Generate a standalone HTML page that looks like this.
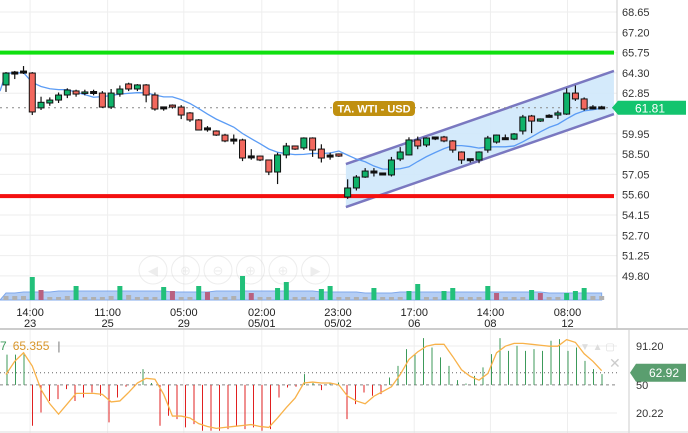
<!DOCTYPE html>
<html><head><meta charset="utf-8"><style>
body{margin:0;background:#fff;width:688px;height:433px;overflow:hidden;font-family:"Liberation Sans",sans-serif}
svg{display:block}
</style></head><body>
<svg id="c" width="688" height="433" font-family="Liberation Sans, sans-serif"></svg>
<script>
const opens=[63.44,64.29,64.36,64.29,61.8,62.15,62.36,62.72,63.01,62.86,62.9,62.86,61.86,62.79,63.51,63.15,63.44,62.72,61.8,62.0,61.86,61.44,60.94,60.3,60.15,59.86,59.5,59.51,58.3,58.36,58.08,57.22,58.44,59.08,58.94,59.65,58.86,58.36,58.51,55.44,56.08,56.86,57.22,57.08,57.01,58.15,58.44,59.51,59.15,59.65,59.72,59.44,58.65,58.1,58.08,58.79,59.36,59.6,59.57,60.15,61.22,60.86,61.2,61.29,61.36,62.86,62.44,61.8,61.8];
const closes=[64.29,64.29,64.36,61.51,62.2,62.36,62.72,63.08,62.79,62.94,62.9,61.86,62.86,63.15,63.15,63.44,62.72,61.72,61.8,61.86,61.29,60.94,60.22,60.3,59.86,59.44,59.5,58.22,58.3,58.08,57.22,58.44,59.08,58.86,59.65,58.79,58.22,58.36,58.36,56.08,56.86,57.29,57.22,57.08,58.08,58.65,59.51,59.08,59.65,59.65,59.44,58.79,58.08,58.1,58.65,59.65,59.86,59.6,59.94,61.15,60.86,61.01,61.2,61.44,62.86,62.44,61.72,61.8,61.8];
const highs=[64.36,64.44,64.79,64.36,62.6,62.55,62.9,63.2,63.1,63.1,63.1,63.0,63.15,63.4,63.6,63.5,63.5,62.9,61.9,62.05,62.0,61.5,61.0,60.5,60.2,59.95,59.9,59.6,58.85,58.4,58.1,58.6,59.3,59.1,59.7,59.7,59.2,58.6,58.55,56.7,57.0,57.5,57.5,57.15,58.3,59.0,59.7,59.75,59.7,59.75,59.8,59.5,58.7,58.15,58.7,59.8,59.9,59.9,60.0,61.3,61.3,61.05,61.35,61.6,63.2,63.4,62.55,62.0,61.95];
const lows=[62.94,63.86,64.22,61.29,61.65,61.95,62.15,62.5,62.6,62.7,62.7,61.8,61.72,62.6,63.0,63.0,62.2,61.6,61.6,61.75,61.0,60.8,60.2,60.1,59.8,59.35,59.2,58.0,58.1,58.0,57.0,56.36,58.2,58.8,58.8,58.3,57.9,58.1,58.3,55.3,55.9,56.8,56.9,57.0,56.9,58.0,58.4,58.85,59.0,59.5,59.35,58.6,57.8,57.9,57.85,58.6,59.25,59.55,59.5,59.9,60.0,60.8,61.1,61.0,61.3,62.3,61.6,61.7,61.7];
const volumes=[4,4,4,23,10,3,3,4,14,3,3,3,4,14,5,3,3,3,13,9,3,3,14,8,3,3,4,24,7,3,3,12,18,3,3,3,11,14,3,3,3,3,12,3,3,3,9,16,3,3,9,12,3,3,3,14,7,3,3,3,10,7,3,3,7,9,12,4,4];
const volUp=[1,1,1,1,0,1,1,1,1,0,1,1,1,1,0,1,1,1,1,0,1,1,1,0,1,1,1,1,0,1,1,1,1,1,1,1,1,1,1,1,1,1,1,1,1,1,1,1,1,1,1,1,1,1,1,1,0,1,1,1,1,0,1,1,1,1,1,1,1];
const volMA=[7,7,8,8,8,8,9,9,9,9,9,9,9,9,9,9,9,9,9,8,8,8,8,8,9,9,9,9,9,9,9,9,9,9,9,9,8,8,8,8,8,7,7,7,7,8,8,8,8,8,8,8,8,8,8,8,8,8,8,8,8,8,7,7,7,7,7,7,7];
const oscBars=[82,82,84,6.7,20.8,33,35,45.5,33,36.7,42,38.5,10.3,36.7,48,48,66.7,52,6.7,17.3,13.8,5,8.5,1.4,1.4,1.4,3.2,6.7,3.2,5,1.4,3.2,36.7,47.3,48,61.4,52,44.5,52,52.6,13.8,29.7,42,38.5,40.2,57.9,70.2,87.9,82.6,99.5,89.6,79.1,70.2,55.1,51.5,59.6,68.5,82.6,99.5,86.1,91.4,86.1,87.9,86.1,96.7,98.5,86.1,89.6,75.5,66.7,61.4];
const oscLine=[61,75,84,70,45,30,19,30,41,41,41,40,32,33,42,52,57,56,40,17,17,15,9,6,4,5,6,7,8,6,5,15,26,36,52,53,52,52,50,38,33,30,38,43,48,61,77,85,91,93,93,80,66,59,55,62,84,91,94,94,93,92,91,91,98,95,83,75,65];
const priceTicks=[68.65,67.20,65.75,64.30,62.85,59.95,58.50,57.05,55.60,54.15,52.70,51.25,49.80];
const timeLabels=["14:00","11:00","05:00","02:00","23:00","17:00","14:00","08:00"];
const dateLabels=["23","25","29","05/01","05/02","06","08","12"];
const timeIdx=[2.75,11.6,20.3,29.2,37.9,46.6,55.3,64.1];
const oscTicks=[91.20,50,20.22];
const resistance=65.75, support=55.5, lastPrice=61.81, oscLast=62.92;
const chIdx=[38.8,69.4], chUpper=[57.79,64.44], chLower=[54.72,61.36];

const NS="http://www.w3.org/2000/svg";
const svg=document.getElementById('c');
function mk(t,a,p){const e=document.createElementNS(NS,t);for(const k in a)e.setAttribute(k,a[k]);(p||svg).appendChild(e);return e;}
const X=i=>6+i*8.76;
const Y=p=>12+(68.65-p)*14;
const XO=i=>7+i*(595/(oscBars.length-1));
const YO=v=>346+(91.2-v)/1.059;
const YV=v=>300-v;

priceTicks.forEach(p=>{const l=mk('line',{x1:0,x2:617,y1:Y(p),y2:Y(p),stroke:'#eeeeee'});});
timeIdx.forEach(i=>{const l=mk('line',{x1:X(i),x2:X(i),y1:0,y2:433,stroke:'#eeeeee'});});
[YO(91.2),YO(20.22)].forEach(y=>{const l=mk('line',{x1:0,x2:617,y1:y,y2:y,stroke:'#eeeeee'});});

const navG=mk('g',{opacity:0.35});
["◀","⊕","⊖","⊕","⊕","▶"].forEach((s,k)=>{const cx=153+k*32.5;const c=mk('circle',{cx:cx,cy:270,r:14,fill:'none',stroke:'#ccc'},navG);const t=mk('text',{x:cx,y:275,'text-anchor':'middle','font-size':13,fill:'#ccc'},navG);t.textContent=s;});

const chPts=`${X(chIdx[0])},${Y(chUpper[0])} ${X(chIdx[1])},${Y(chUpper[1])} ${X(chIdx[1])},${Y(chLower[1])} ${X(chIdx[0])},${Y(chLower[0])}`;
const ch=mk('polygon',{points:chPts,fill:'#cfe8fb',opacity:0.9});
[[chUpper,'channel-upper'],[chLower,'channel-lower']].forEach(([a,n])=>{const l=mk('line',{x1:X(chIdx[0]),y1:Y(a[0]),x2:X(chIdx[1]),y2:Y(a[1]),stroke:'#7a78c0','stroke-width':2.5});});

let va=`M${X(0)-6},300 `;volMA.forEach((v,i)=>va+=`L${X(i)},${YV(v)} `);va+=`L${X(volMA.length-1)},300Z`;
const vap=mk('path',{d:va,fill:'#a9c6f3',opacity:0.85,stroke:'#6a9ae8'});
volumes.forEach((v,i)=>{const r=mk('rect',{x:X(i)-2.5,y:YV(v),width:5,height:v,fill:v>5?(volUp[i]?'#22c07a':'#b86080'):'#b0b0b0'});});

const rl=mk('rect',{x:0,y:Y(resistance)-2,width:614,height:4,fill:'#10e010'});
const sl=mk('rect',{x:0,y:Y(support)-2,width:614,height:4,fill:'#f41010'});
const lp=mk('line',{x1:0,x2:614,y1:Y(lastPrice),y2:Y(lastPrice),stroke:'#888','stroke-dasharray':'2,4'});

let d='';closes.forEach((c,i)=>{const s=closes.slice(Math.max(0,i-7),i+1);const m=s.reduce((a,b)=>a+b,0)/s.length;d+=(i?'L':'M')+X(i)+','+Y(m)+' ';});
const ma=mk('path',{d:'M0,'+Y(63.0)+' '+d.replace('M','L'),fill:'none',stroke:'#5b9cf5','stroke-width':1.3});

opens.forEach((o,i)=>{const c=closes[i];const g=mk('g',{});
mk('line',{x1:X(i),x2:X(i),y1:Y(highs[i]),y2:Y(lows[i]),stroke:'#111','stroke-width':1.2},g);
const top=Y(Math.max(o,c)),bh=Math.max(1.5,Math.abs(Y(o)-Y(c)));
const dj=Math.abs(o-c)<0.03;
mk('rect',{x:X(i)-3,y:dj?top-1:top,width:6,height:dj?2:bh,fill:dj?'#111':(c>=o?'#0fb26a':'#f2685e'),stroke:'#111','stroke-width':1},g);});

const tg=mk('g',{});
mk('rect',{x:333,y:101,width:82,height:15,rx:4,fill:'#c09010'},tg);
const tt=mk('text',{x:374,y:112.5,'text-anchor':'middle','font-size':11,'font-weight':'bold',fill:'#fff'},tg);tt.textContent='TA. WTI - USD';

mk('line',{x1:617,x2:617,y1:0,y2:329,stroke:'#ccc'});
mk('line',{x1:0,x2:688,y1:329,y2:329,stroke:'#ccc','stroke-width':2});
mk('line',{x1:629,x2:629,y1:329,y2:433,stroke:'#ccc'});
mk('line',{x1:0,x2:688,y1:432,y2:432,stroke:'#ddd'});

priceTicks.forEach(p=>{const t=mk('text',{x:622,y:Y(p)+4,'font-size':11,fill:'#333'});t.textContent=p.toFixed(2);});
const pg=mk('g',{});
mk('path',{d:`M612,${Y(lastPrice)} L618,${Y(lastPrice)-7} L686,${Y(lastPrice)-7} L686,${Y(lastPrice)+7} L618,${Y(lastPrice)+7}Z`,fill:'#13c46e'},pg);
const pt=mk('text',{x:650,y:Y(lastPrice)+4.5,'text-anchor':'middle','font-size':12,fill:'#fff'},pg);pt.textContent=lastPrice.toFixed(2);

timeIdx.forEach((i,k)=>{const t=mk('text',{x:X(i),y:316,'text-anchor':'middle','font-size':11,fill:'#222'});t.textContent=timeLabels[k];
const t2=mk('text',{x:X(i),y:327,'text-anchor':'middle','font-size':11,fill:'#222'});t2.textContent=dateLabels[k];});

mk('line',{x1:0,x2:617,y1:YO(50),y2:YO(50),stroke:'#888','stroke-dasharray':'3,3'});
mk('line',{x1:0,x2:617,y1:YO(oscLast),y2:YO(oscLast),stroke:'#666','stroke-dasharray':'1,3'});
oscBars.forEach((v,i)=>{const l=mk('line',{x1:XO(i),x2:XO(i),y1:YO(50),y2:YO(v),stroke:v>=50?'#3c9a5a':'#e02020','stroke-width':1});});
let od='';oscLine.forEach((v,i)=>od+=(i?'L':'M')+X(i)+','+YO(v)+' ');
const ol=mk('path',{d:od,fill:'none',stroke:'#f8b24a','stroke-width':1.3});
oscTicks.forEach(v=>{const t=mk('text',{x:636,y:YO(v)+4,'font-size':11,fill:'#333'});t.textContent=v===50?'50':v.toFixed(2);});
const og=mk('g',{});
mk('path',{d:`M630,${YO(oscLast)} L636,${YO(oscLast)-9} L686,${YO(oscLast)-9} L686,${YO(oscLast)+9} L636,${YO(oscLast)+9}Z`,fill:'#5a9e6f'},og);
const ot=mk('text',{x:664,y:YO(oscLast)+4.5,'text-anchor':'middle','font-size':12,fill:'#fff'},og);ot.textContent=oscLast.toFixed(2);
const lg=mk('text',{x:0,y:350,'font-size':12});
lg.innerHTML='<tspan fill="#3c9a5a">7</tspan><tspan fill="#d8962a" dx="6">65.355</tspan><tspan fill="#777" dx="8">|</tspan>';
const cx=mk('text',{x:609,y:368,'font-size':14,fill:'#ccc'});cx.textContent='✕';
const ic=mk('text',{x:580,y:350,'font-size':10,fill:'#ddd'});ic.textContent='▼ ▲ ▢';
</script>
</body></html>
